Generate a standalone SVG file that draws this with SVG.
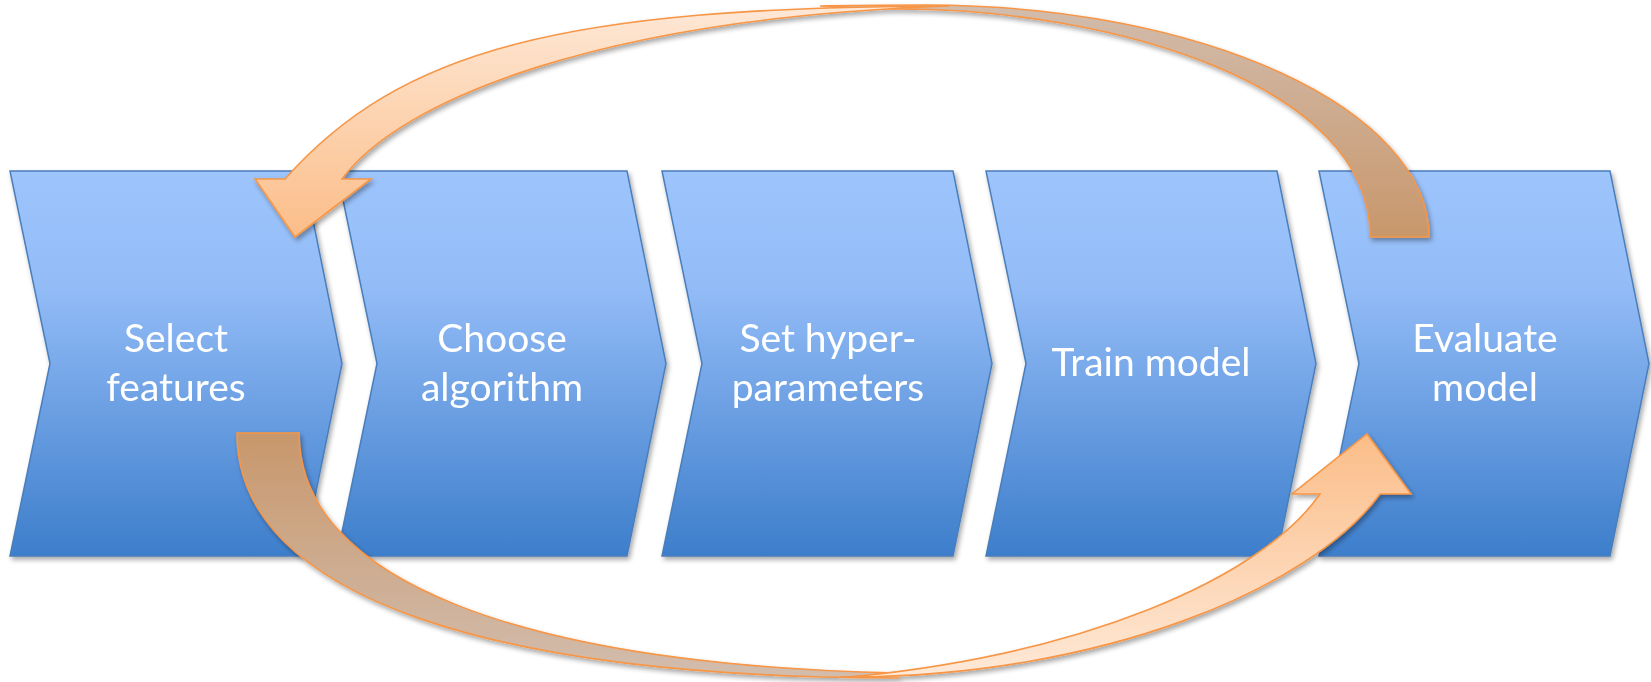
<svg xmlns="http://www.w3.org/2000/svg" width="1651" height="682" viewBox="0 0 1651 682">
<defs>
<linearGradient id="gBlue" x1="0" y1="0" x2="0" y2="1">
<stop offset="0" stop-color="#9DC4FC"/>
<stop offset="0.3" stop-color="#93BCF7"/>
<stop offset="1" stop-color="#3D7ECB"/>
</linearGradient>
<linearGradient id="gTopFront" gradientUnits="userSpaceOnUse" x1="0" y1="0" x2="0" y2="237">
<stop offset="0" stop-color="#FEE9D8"/>
<stop offset="1" stop-color="#FBBD88"/>
</linearGradient>
<linearGradient id="gTopBack" gradientUnits="userSpaceOnUse" x1="0" y1="0" x2="0" y2="237">
<stop offset="0" stop-color="#D2BDAE"/>
<stop offset="1" stop-color="#C8976B"/>
</linearGradient>
<linearGradient id="gBotFront" gradientUnits="userSpaceOnUse" x1="0" y1="678" x2="0" y2="434">
<stop offset="0" stop-color="#FEE9D8"/>
<stop offset="1" stop-color="#FBBD88"/>
</linearGradient>
<linearGradient id="gBotBack" gradientUnits="userSpaceOnUse" x1="0" y1="678" x2="0" y2="433">
<stop offset="0" stop-color="#D2BDAE"/>
<stop offset="1" stop-color="#C8976B"/>
</linearGradient>
<filter id="shadow" x="-10%" y="-10%" width="120%" height="130%">
<feGaussianBlur in="SourceAlpha" stdDeviation="2.5"/>
<feOffset dx="1.5" dy="3" result="b"/>
<feComponentTransfer><feFuncA type="linear" slope="0.35"/></feComponentTransfer>
<feMerge><feMergeNode/><feMergeNode in="SourceGraphic"/></feMerge>
</filter>
</defs>
<style>
.chev{fill:url(#gBlue);stroke:#4A7EBB;stroke-width:1.5;stroke-linejoin:miter}
.lbl{font-family:Lato,"Liberation Sans",sans-serif;font-size:39px;fill:#FFFFFF;text-anchor:middle}
.arr{stroke:#F79646;stroke-width:1.6;stroke-linejoin:miter}
</style>
<rect width="1651" height="682" fill="#FFFFFF"/>
<g id="node-select-features" filter="url(#shadow)">
<path class="chev" d="M10,171 L303,171 L342,363.5 L303,556 L10,556 L50,363.5 Z"/>
<text class="lbl" x="176" y="352">Select</text>
<text class="lbl" x="176" y="401">features</text>
</g>
<g id="node-choose-algorithm" filter="url(#shadow)">
<path class="chev" d="M337,171 L627,171 L666,363.5 L627,556 L337,556 L377,363.5 Z"/>
<text class="lbl" x="502" y="352">Choose</text>
<text class="lbl" x="502" y="401">algorithm</text>
</g>
<g id="node-set-hyperparameters" filter="url(#shadow)">
<path class="chev" d="M662,171 L953,171 L992,363.5 L953,556 L662,556 L702,363.5 Z"/>
<text class="lbl" x="828" y="352">Set hyper-</text>
<text class="lbl" x="828" y="401">parameters</text>
</g>
<g id="node-train-model" filter="url(#shadow)">
<path class="chev" d="M986,171 L1277,171 L1316,363.5 L1277,556 L986,556 L1026,363.5 Z"/>
<text class="lbl" x="1151" y="376">Train model</text>
</g>
<g id="node-evaluate-model" filter="url(#shadow)">
<path class="chev" d="M1319,171 L1610,171 L1649,363.5 L1610,556 L1319,556 L1359,363.5 Z"/>
<text class="lbl" x="1485" y="352">Evaluate</text>
<text class="lbl" x="1485" y="401">model</text>
</g>
<g id="connectors" filter="url(#shadow)">
<g id="arrow-evaluate-to-select">
<path class="arr" fill="url(#gTopBack)" d="M1370,237 L1429,237 C1429,109 1203,5 925,5 Q860,5 820,6 Q870,9 900,9 C1110,9 1372,85 1370,237 Z"/>
<path class="arr" fill="url(#gTopFront)" d="M950,6 C560,7 400,50 285,179 L255,179 L295,237 L371,179 L342,179 C400,100 600,18 950,6 Z"/>
</g>
<g id="arrow-select-to-evaluate">
<path class="arr" fill="url(#gBotBack)" d="M237,433 L299,433 C299,580 520,665 900,673 Q880,676 840,677 Q880,678 900,678 C500,678 237,600 237,433 Z"/>
<path class="arr" fill="url(#gBotFront)" d="M850,677 C1100,676 1310,590 1380,494 L1411,494 L1367,434 L1292,494 L1320,494 C1260,580 1080,655 850,677 Z"/>
</g>
</g>
</svg>
